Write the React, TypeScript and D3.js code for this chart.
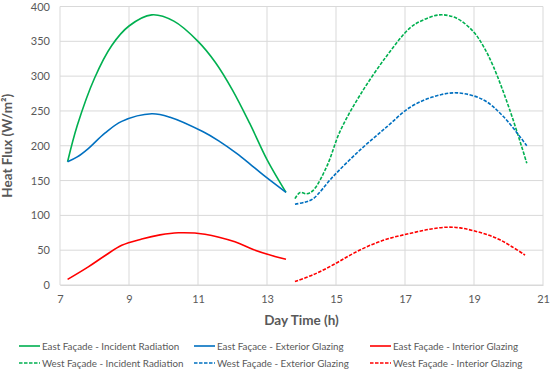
import React, { useEffect, useRef } from 'react';
import * as d3 from 'd3';

// [hour, W/m²]
const eastIncident: [number, number][] = [
  [7.22, 177], [7.5, 229], [8.0, 297], [8.5, 344], [9.0, 372], [9.66, 388],
  [10.3, 379], [11.0, 350], [11.5, 320], [12.0, 280], [12.5, 232],
  [13.0, 180], [13.55, 133],
];
const eastExterior: [number, number][] = [
  [7.22, 177], [7.5, 184], [7.82, 196], [8.3, 218], [8.79, 235],
  [9.66, 246], [10.19, 241], [11.15, 220], [11.6, 207],
  [12.12, 189], [12.5, 174], [12.89, 158], [13.55, 133],
];
const eastInterior: [number, number][] = [
  [7.22, 8], [7.82, 26], [8.3, 42], [8.79, 57], [9.37, 66], [9.9, 72],
  [10.43, 75], [11.2, 73], [12.07, 62], [12.6, 51], [13.23, 41], [13.55, 37],
];
const westIncident: [number, number][] = [
  [13.81, 124], [13.96, 133], [14.15, 131], [14.34, 136], [14.73, 170],
  [15.12, 221], [15.7, 273], [16.47, 329], [17.14, 369], [17.5, 380],
  [18.01, 388], [18.5, 383], [18.98, 364], [19.27, 343],
  [19.56, 314], [20.04, 251], [20.53, 175],
];
const westExterior: [number, number][] = [
  [13.81, 116], [14.1, 119], [14.34, 124], [14.92, 156], [15.7, 194],
  [16.47, 227], [17.14, 255], [17.8, 270], [18.5, 276], [19.27, 266],
  [19.85, 242], [20.53, 200],
];
const westInterior: [number, number][] = [
  [13.81, 5], [14.35, 15], [14.92, 29], [15.45, 44], [15.99, 57],
  [16.55, 67], [17.14, 74], [17.7, 80], [18.2, 83], [18.6, 82],
  [18.98, 78], [19.4, 72], [19.75, 65], [20.1, 55], [20.48, 43],
];

const seriesNames = [
  'East Façade - Incident Radiation',
  'East Façace - Exterior Glazing',
  'East Façade - Interior Glazing',
  'West Façade - Incident Radiation',
  'West Façade - Exterior Glazing',
  'West Façade - Interior Glazing',
];
const seriesData = [eastIncident, eastExterior, eastInterior, westIncident, westExterior, westInterior];
const seriesColors = ['#00b050', '#0070c0', '#ff0000', '#00b050', '#0070c0', '#ff0000'];
const seriesDashed = [false, false, false, true, true, true];

const xTicks = [7, 9, 11, 13, 15, 17, 19, 21];
const yTicks = [0, 50, 100, 150, 200, 250, 300, 350, 400];

const width = 550;
const height = 369;
const margin = { top: 6.5, right: 7, bottom: 84, left: 60 };
const font = 'Lato, "Open Sans", sans-serif';

const App = () => {
  const svgRef = useRef<SVGSVGElement>(null);

  useEffect(() => {
    const svg = d3.select(svgRef.current);
    svg.selectAll('*').remove();

    const xScale = d3.scaleLinear().domain([7, 21]).range([margin.left, width - margin.right]);
    const yScale = d3.scaleLinear().domain([0, 400]).range([height - margin.bottom, margin.top]);

    const grid = svg.append('g');
    grid.selectAll('.vg')
      .data(xTicks)
      .join('line')
      .attr('x1', d => xScale(d)).attr('x2', d => xScale(d))
      .attr('y1', yScale(0)).attr('y2', yScale(400))
      .attr('stroke', '#d9d9d9').attr('stroke-width', 1);
    grid.selectAll('.hg')
      .data(yTicks)
      .join('line')
      .attr('x1', xScale(7)).attr('x2', xScale(21))
      .attr('y1', d => yScale(d)).attr('y2', d => yScale(d))
      .attr('stroke', '#d9d9d9').attr('stroke-width', 1);

    const xAxis = d3.axisBottom(xScale).tickValues(xTicks).tickSize(0).tickPadding(10);
    svg.append('g')
      .attr('transform', `translate(0,${yScale(0)})`)
      .call(xAxis)
      .call(g => g.select('.domain').attr('stroke', '#d9d9d9'))
      .selectAll('text')
      .attr('fill', '#595959').attr('font-size', 11).attr('font-family', font);

    const yAxis = d3.axisLeft(yScale).tickValues(yTicks).tickSize(0).tickPadding(10);
    svg.append('g')
      .attr('transform', `translate(${xScale(7)},0)`)
      .call(yAxis)
      .call(g => g.select('.domain').remove())
      .selectAll('text')
      .attr('fill', '#595959').attr('font-size', 11).attr('font-family', font);

    const line = d3.line<[number, number]>()
      .x(d => xScale(d[0]))
      .y(d => yScale(d[1]))
      .curve(d3.curveCatmullRom.alpha(0.5));

    svg.append('g')
      .selectAll('path')
      .data(seriesData)
      .join('path')
      .attr('d', d => line(d))
      .attr('fill', 'none')
      .attr('stroke', (_, i) => seriesColors[i])
      .attr('stroke-width', 1.6)
      .attr('stroke-dasharray', (_, i) => (seriesDashed[i] ? '3.5,1.5' : null));

    svg.append('text')
      .attr('transform', `translate(12,${(yScale(0) + yScale(400)) / 2}) rotate(-90)`)
      .attr('text-anchor', 'middle')
      .attr('font-weight', 'bold')
      .attr('font-size', 13.5)
      .attr('font-family', font)
      .attr('fill', '#595959')
      .text('Heat Flux (W/m²)');

    svg.append('text')
      .attr('x', (xScale(7) + xScale(21)) / 2)
      .attr('y', 325)
      .attr('text-anchor', 'middle')
      .attr('font-weight', 'bold')
      .attr('font-size', 13.5)
      .attr('font-family', font)
      .attr('fill', '#595959')
      .text('Day Time (h)');

    const legendX = [19, 194, 370];
    const legendY = [346, 363];
    const legend = svg.append('g')
      .selectAll('g')
      .data(seriesNames)
      .join('g')
      .attr('transform', (_, i) => `translate(${legendX[i % 3]},${legendY[Math.floor(i / 3)]})`);
    legend.append('line')
      .attr('x1', 0).attr('x2', 21)
      .attr('stroke', (_, i) => seriesColors[i])
      .attr('stroke-width', 1.6)
      .attr('stroke-dasharray', (_, i) => (seriesDashed[i] ? '3.5,1.5' : null));
    legend.append('text')
      .attr('x', 23)
      .attr('y', 3.5)
      .attr('font-size', 9.8)
      .attr('font-family', font)
      .attr('fill', '#595959')
      .text(d => d);
  }, []);

  return (
    <svg ref={svgRef} width={width} height={height} style={{ position: 'absolute', left: 0, top: 0 }} />
  );
};

export default App;
